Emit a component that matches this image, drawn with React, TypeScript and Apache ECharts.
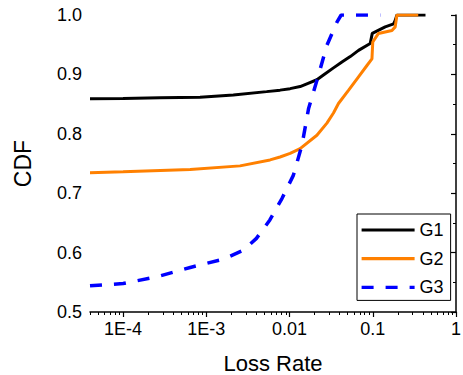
import React, { useEffect, useRef } from "react";
import * as echarts from "echarts";

// Loss rate (x) and CDF (y) for each group
const G1_X = [4e-5, 1e-4, 2.77e-4, 8.4e-4, 2.11e-3, 5.3e-3, 7.69e-3, 0.01016, 0.0134, 0.0167, 0.0213, 0.0268, 0.0337, 0.0426, 0.0536, 0.0674, 0.0931, 0.0986, 0.141, 0.178, 0.186, 0.195, 0.43];
const G1_Y = [0.859, 0.8595, 0.8605, 0.8614, 0.8653, 0.871, 0.8735, 0.876, 0.8795, 0.885, 0.891, 0.901, 0.911, 0.921, 0.93, 0.9405, 0.952, 0.969, 0.98, 0.985, 0.991, 1.0, 1.0];

const G2_X = [4e-5, 1e-4, 6.4e-4, 2.54e-3, 5.83e-3, 7.69e-3, 0.01016, 0.0134, 0.0213, 0.0281, 0.0337, 0.0387, 0.051, 0.0674, 0.0851, 0.0977, 0.1, 0.117, 0.17, 0.186, 0.195, 0.352];
const G2_Y = [0.7345, 0.736, 0.74, 0.746, 0.756, 0.761, 0.767, 0.775, 0.7975, 0.818, 0.835, 0.851, 0.873, 0.896, 0.915, 0.926, 0.9545, 0.969, 0.974, 0.98, 1.0, 1.0];

const G3_X = [4e-5, 1e-4, 2.5e-4, 6.4e-4, 1.6e-3, 2.8e-3, 4e-3, 5.8e-3, 8.1e-3, 0.0111, 0.0141, 0.0169, 0.0222, 0.0281, 0.0371, 0.0417, 0.123];
const G3_Y = [0.544, 0.548, 0.559, 0.575, 0.589, 0.604, 0.624, 0.655, 0.691, 0.73, 0.781, 0.842, 0.898, 0.949, 0.988, 1.0, 1.0];

const SERIES_NAMES = ["G1", "G2", "G3"];
const X_MIN = 4e-5;
const X_MAX = 1;
const X_MAJOR = [1e-4, 1e-3, 1e-2, 1e-1, 1];
const X_MAJOR_LABELS = ["1E-4", "1E-3", "0.01", "0.1", "1"];
const Y_MIN = 0.5;
const Y_MAX = 1.0;
const Y_INTERVAL = 0.1;

const FONT = "'Liberation Sans', Arial, sans-serif";

const lg = (v: number) => Math.log10(v);

function pairs(xs: number[], ys: number[]) {
  return xs.map((x, i) => [lg(x), ys[i]]);
}

function minorTicks(): number[] {
  const out: number[] = [];
  for (let e = -5; e <= -1; e++) {
    for (let k = 2; k <= 9; k++) {
      const v = lg(k * Math.pow(10, e));
      if (v >= lg(X_MIN) - 1e-9 && v <= lg(X_MAX) + 1e-9) out.push(v);
    }
  }
  return out;
}

export default function App() {
  const ref = useRef<HTMLDivElement>(null);

  useEffect(() => {
    if (!ref.current) return;
    const chart = echarts.init(ref.current, undefined, { renderer: "svg" });
    const majorLog = X_MAJOR.map(lg);
    const axisLineStyle = { color: "#000", width: 1.5 };

    chart.setOption({
      animation: false,
      backgroundColor: "#fff",
      textStyle: { fontFamily: FONT },
      grid: { left: 90, right: 7, top: 15, bottom: 63, containLabel: false, outerBoundsMode: "none" },
      legend: {
        data: SERIES_NAMES,
        orient: "vertical",
        left: 357,
        top: 214,
        padding: [6, 7, 3, 3],
        itemWidth: 53,
        itemHeight: 20,
        itemGap: 8.7,
        borderColor: "#000",
        borderWidth: 1,
        backgroundColor: "#fff",
        itemStyle: { opacity: 0 },
        lineStyle: { width: 3.2 },
        textStyle: { fontSize: 18, color: "#000", fontFamily: FONT, lineHeight: 20 },
      },
      xAxis: [
        {
          type: "value",
          position: "bottom",
          min: lg(X_MIN),
          max: lg(X_MAX),
          name: "Loss Rate",
          nameLocation: "middle",
          nameGap: 40,
          nameTextStyle: { fontSize: 22, color: "#000", fontFamily: FONT },
          axisLine: { show: true, lineStyle: axisLineStyle },
          axisTick: { show: true, inside: false, length: 5, customValues: majorLog, lineStyle: { color: "#000", width: 1.2 } },
          axisLabel: {
            show: true,
            customValues: majorLog,
            margin: 8,
            fontSize: 18,
            color: "#000",
            fontFamily: FONT,
            formatter: (v: number) => {
              const idx = majorLog.findIndex((m) => Math.abs(m - v) < 1e-6);
              return idx >= 0 ? X_MAJOR_LABELS[idx] : "";
            },
          },
          splitLine: { show: false },
        },
        {
          type: "value",
          position: "bottom",
          offset: 0,
          min: lg(X_MIN),
          max: lg(X_MAX),
          axisLine: { show: false },
          axisTick: { show: true, inside: false, length: 3, customValues: minorTicks(), lineStyle: { color: "#000", width: 1 } },
          axisLabel: { show: false },
          splitLine: { show: false },
        },
      ],
      yAxis: {
        type: "value",
        min: Y_MIN,
        max: Y_MAX,
        interval: Y_INTERVAL,
        name: "CDF",
        nameLocation: "middle",
        nameGap: 56,
        nameTextStyle: { fontSize: 23, color: "#000", fontFamily: FONT },
        axisLine: { show: true, lineStyle: axisLineStyle },
        axisTick: { show: true, inside: false, length: 5, lineStyle: { color: "#000", width: 1.2 } },
        minorTick: { show: true, splitNumber: 2, length: 3, lineStyle: { color: "#000", width: 1 } },
        axisLabel: {
          margin: 8,
          fontSize: 18,
          color: "#000",
          fontFamily: FONT,
          formatter: (v: number) => v.toFixed(1),
        },
        splitLine: { show: false },
        minorSplitLine: { show: false },
      },
      series: [
        {
          name: SERIES_NAMES[0],
          type: "line",
          xAxisIndex: 0,
          data: pairs(G1_X, G1_Y),
          showSymbol: false,
          symbol: "none",
          lineStyle: { color: "#000000", width: 3 },
          itemStyle: { color: "#000000" },
          z: 2,
        },
        {
          name: SERIES_NAMES[1],
          type: "line",
          xAxisIndex: 0,
          data: pairs(G2_X, G2_Y),
          showSymbol: false,
          symbol: "none",
          lineStyle: { color: "#FF8000", width: 3 },
          itemStyle: { color: "#FF8000" },
          z: 3,
        },
        {
          name: SERIES_NAMES[2],
          type: "line",
          xAxisIndex: 0,
          data: pairs(G3_X, G3_Y),
          showSymbol: false,
          symbol: "none",
          lineStyle: { color: "#0000FF", width: 3.5, type: [12, 12] },
          itemStyle: { color: "#0000FF" },
          z: 4,
        },
      ],
    });

    return () => chart.dispose();
  }, []);

  return (
    <div
      ref={ref}
      style={{ position: "absolute", left: 0, top: 0, width: 463, height: 375, background: "#fff" }}
    />
  );
}
